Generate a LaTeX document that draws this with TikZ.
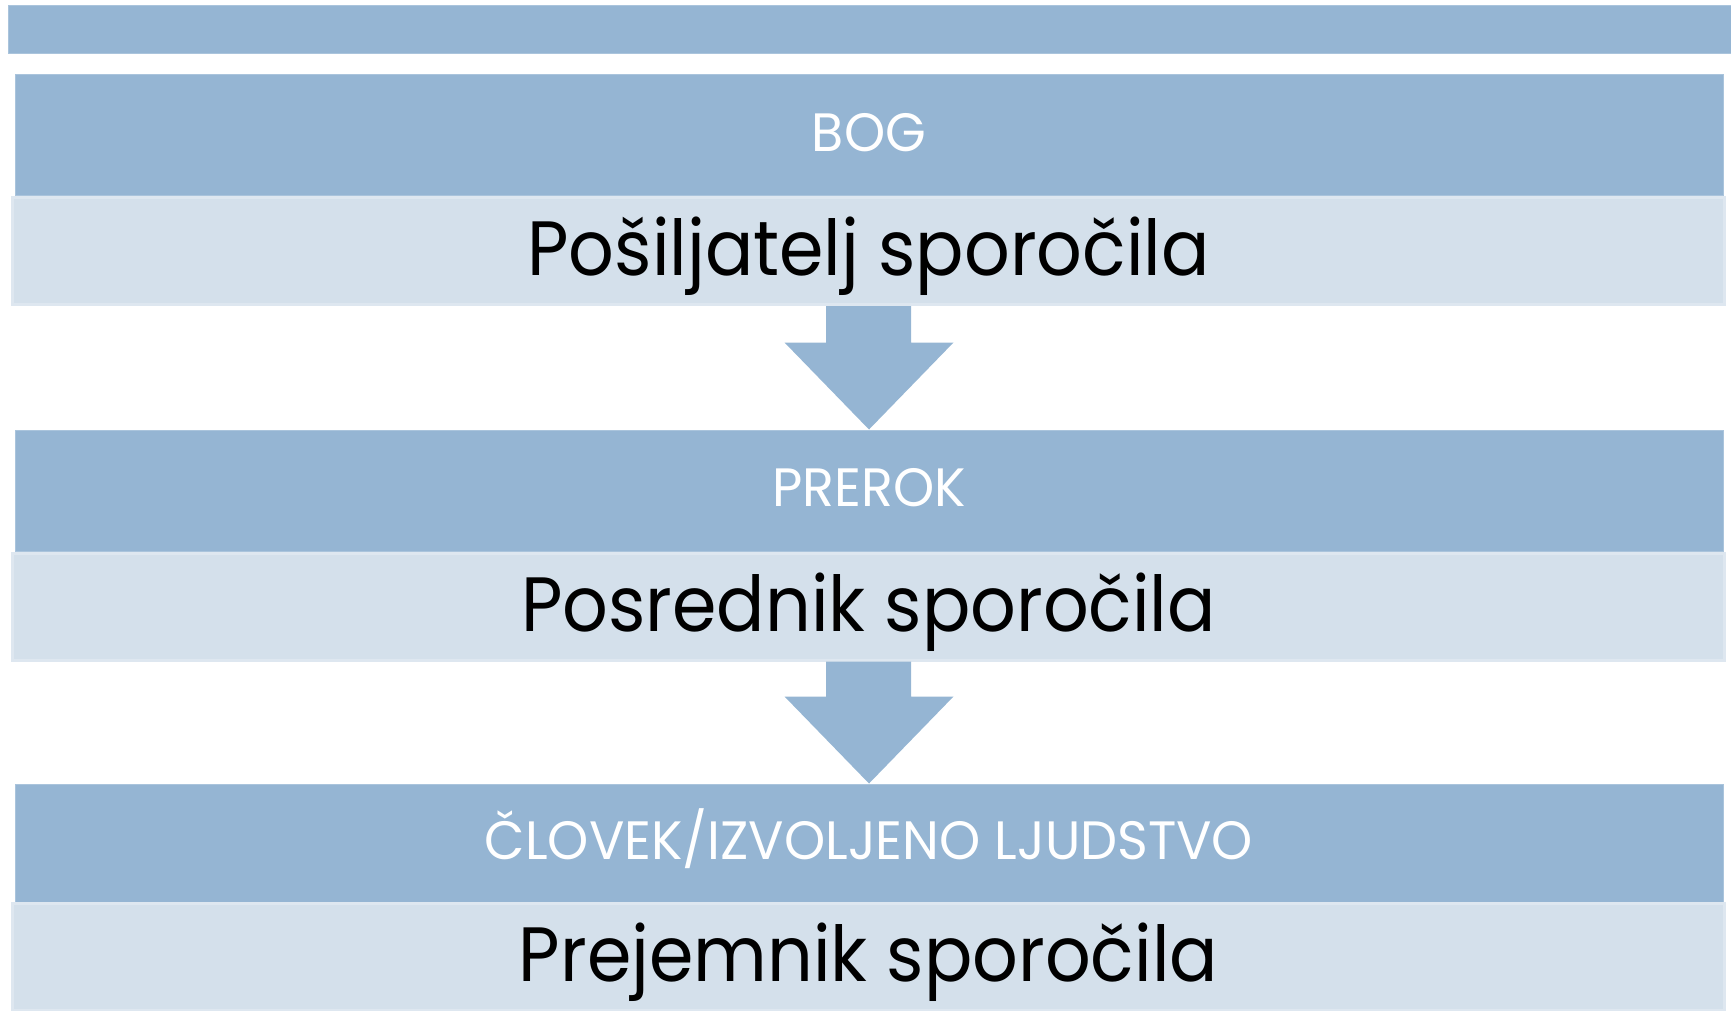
\documentclass[tikz,border=0pt]{standalone}
\usepackage{fontspec}
\setmainfont[FakeStretch=0.93]{Poppins}
\newfontfamily\labelfont[FakeStretch=0.97]{Poppins}
\usetikzlibrary{calc}
\definecolor{headBlue}{RGB}{149,181,211}
\definecolor{bodyBlue}{RGB}{212,224,235}
\definecolor{edgeBlue}{RGB}{222,231,240}
\tikzset{
  band/.style={fill=headBlue, draw=headBlue!80!white, line width=1pt, inner sep=0pt, minimum width=1708pt},
  head/.style={band, minimum height=121pt, text=white, font=\labelfont\fontsize{54}{60}\selectfont, text height=32pt, text depth=0pt},
  body/.style={fill=bodyBlue, draw=edgeBlue, line width=3pt, inner sep=0pt, minimum width=1712pt, minimum height=107pt, text=black, font=\fontsize{77}{86}\selectfont, text height=49pt, text depth=0pt},
  flow/.style={fill=headBlue}
}

\begin{document}
\begin{tikzpicture}[x=1pt,y=-1pt]
  \useasboundingbox (0,0) rectangle (1731,1010);
  \node[band, minimum width=1723pt, minimum height=48pt] (topbar) at (869.5,29) {};

  \node[head] (god) at (869,135) {BOG};
  \node[body] (sender) at (868.5,251) {Pošiljatelj sporočila};
  \node[head] (prophet) at (869,490.5) {PREROK};
  \node[body] (mediator) at (868.5,606.5) {Posrednik sporočila};
  \node[head, minimum height=118pt] (people) at (869,843) {ČLOVEK/IZVOLJENO LJUDSTVO};
  \node[body] (receiver) at (868.5,956.5) {Prejemnik sporočila};

  \fill[flow] ($(sender.south)+(-42.5,0)$) |- ($(prophet.north)+(-84.5,-87)$) -- (prophet.north)
    -- ($(prophet.north)+(84.5,-87)$) -| ($(sender.south)+(42.5,0)$) -- cycle;
  \fill[flow] ($(mediator.south)+(-42.5,0)$) |- ($(people.north)+(-84.5,-87)$) -- (people.north)
    -- ($(people.north)+(84.5,-87)$) -| ($(mediator.south)+(42.5,0)$) -- cycle;
\end{tikzpicture}
\end{document}
